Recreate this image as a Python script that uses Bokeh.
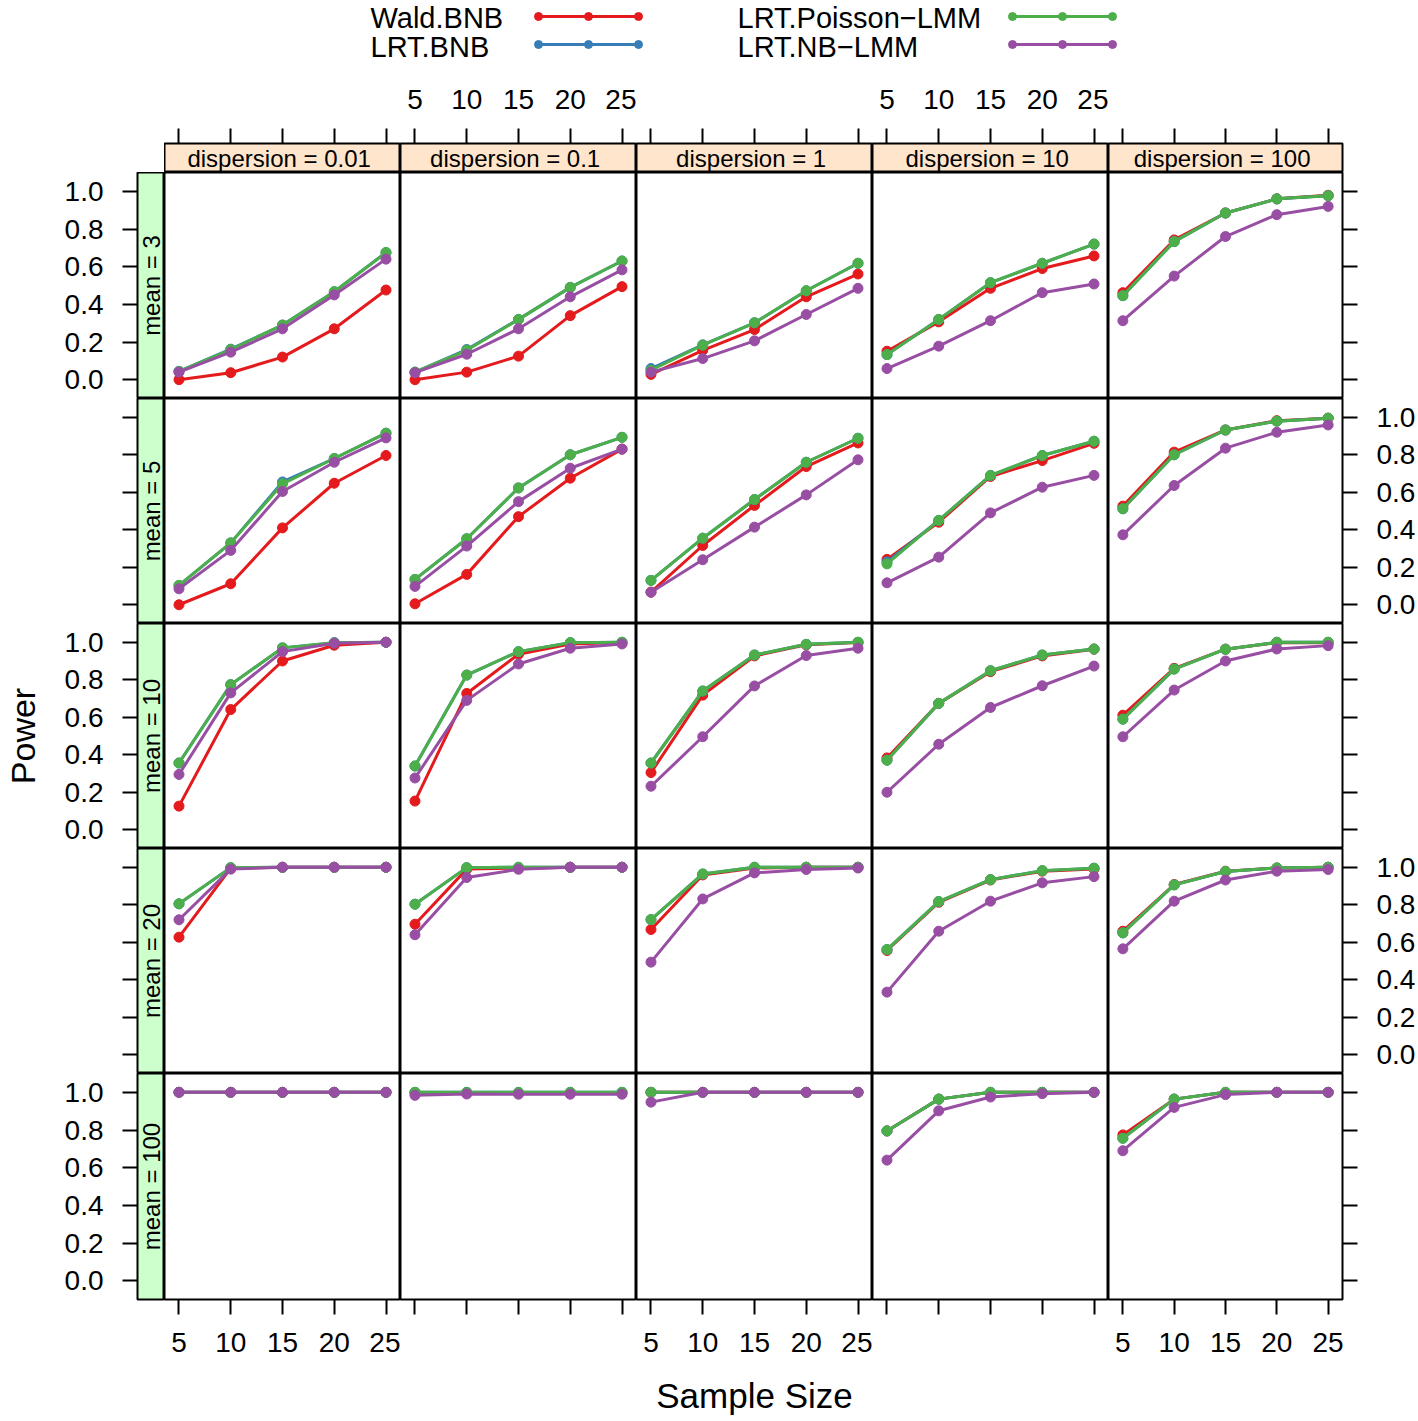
import math
from bokeh.plotting import figure
from bokeh.layouts import gridplot, column
from bokeh.models import Range1d, FixedTicker, LinearAxis, PrintfTickFormatter
from bokeh.core.properties import value
from bokeh.embed import file_html
from bokeh.resources import INLINE

# ---------------- data ----------------
sample_size = [5, 10, 15, 20, 25]
means = ["3", "5", "10", "20", "100"]
dispersions = ["0.01", "0.1", "1", "10", "100"]
x_ticks = [5, 10, 15, 20, 25]
x_tick_labels = ["5", "10", "15", "20", "25"]
y_ticks = [0.0, 0.2, 0.4, 0.6, 0.8, 1.0]
y_tick_labels = ["0.0", "0.2", "0.4", "0.6", "0.8", "1.0"]
methods = ["Wald.BNB", "LRT.BNB", "LRT.Poisson\u2212LMM", "LRT.NB\u2212LMM"]
colors = ["#E41A1C", "#377EB8", "#4DAF4A", "#984EA3"]

# power[mean][dispersion] -> values at sample sizes 5..25
wald_bnb = [
    [[0.0, 0.037, 0.12, 0.27, 0.476], [0.0, 0.04, 0.125, 0.34, 0.494], [0.028, 0.156, 0.266, 0.44, 0.561],
     [0.151, 0.307, 0.485, 0.59, 0.657], [0.462, 0.742, 0.885, 0.96, 0.979]],
    [[0.0, 0.112, 0.41, 0.648, 0.796], [0.005, 0.162, 0.47, 0.675, 0.83], [0.067, 0.316, 0.53, 0.737, 0.863],
     [0.242, 0.44, 0.684, 0.769, 0.861], [0.526, 0.814, 0.932, 0.982, 0.995]],
    [[0.126, 0.641, 0.9, 0.984, 1.0], [0.153, 0.727, 0.936, 0.991, 0.998], [0.305, 0.718, 0.927, 0.986, 0.998],
     [0.383, 0.674, 0.843, 0.927, 0.963], [0.611, 0.861, 0.963, 0.998, 0.998]],
    [[0.627, 0.995, 1.0, 1.0, 1.0], [0.696, 0.99, 0.995, 1.0, 1.0], [0.668, 0.959, 0.996, 1.0, 1.0],
     [0.556, 0.813, 0.932, 0.979, 0.991], [0.659, 0.908, 0.979, 0.996, 1.0]],
    [[1.0, 1.0, 1.0, 1.0, 1.0], [0.998, 0.998, 0.998, 0.998, 0.998], [1.0, 1.0, 1.0, 1.0, 1.0],
     [0.795, 0.964, 1.0, 1.0, 1.0], [0.774, 0.964, 1.0, 1.0, 1.0]],
]
lrt_bnb = [
    [[0.044, 0.162, 0.29, 0.467, 0.675], [0.04, 0.16, 0.32, 0.49, 0.63], [0.059, 0.185, 0.302, 0.472, 0.618],
     [0.133, 0.32, 0.515, 0.618, 0.72], [0.446, 0.733, 0.885, 0.96, 0.977]],
    [[0.103, 0.33, 0.655, 0.78, 0.915], [0.135, 0.352, 0.623, 0.8, 0.893], [0.13, 0.355, 0.561, 0.76, 0.888],
     [0.228, 0.45, 0.69, 0.796, 0.872], [0.512, 0.8, 0.932, 0.979, 0.995]],
    [[0.356, 0.774, 0.97, 0.998, 1.0], [0.34, 0.825, 0.95, 0.998, 1.0], [0.356, 0.74, 0.932, 0.989, 1.0],
     [0.371, 0.674, 0.848, 0.932, 0.964], [0.59, 0.857, 0.963, 1.0, 1.0]],
    [[0.805, 0.998, 1.0, 1.0, 1.0], [0.803, 0.998, 1.0, 1.0, 1.0], [0.721, 0.964, 1.0, 1.0, 1.0],
     [0.561, 0.817, 0.934, 0.982, 0.995], [0.65, 0.906, 0.977, 0.996, 1.0]],
    [[1.0, 1.0, 1.0, 1.0, 1.0], [1.0, 1.0, 1.0, 1.0, 1.0], [1.0, 1.0, 1.0, 1.0, 1.0],
     [0.795, 0.964, 1.0, 1.0, 1.0], [0.756, 0.964, 1.0, 1.0, 1.0]],
]
lrt_poisson_lmm = [
    [[0.044, 0.16, 0.29, 0.467, 0.675], [0.04, 0.156, 0.32, 0.49, 0.63], [0.05, 0.183, 0.302, 0.472, 0.618],
     [0.133, 0.32, 0.515, 0.618, 0.72], [0.446, 0.733, 0.885, 0.96, 0.977]],
    [[0.103, 0.33, 0.645, 0.78, 0.915], [0.135, 0.352, 0.623, 0.8, 0.893], [0.13, 0.355, 0.561, 0.76, 0.888],
     [0.218, 0.45, 0.69, 0.796, 0.872], [0.512, 0.8, 0.932, 0.979, 0.995]],
    [[0.356, 0.774, 0.97, 0.998, 1.0], [0.34, 0.825, 0.95, 0.998, 1.0], [0.356, 0.74, 0.932, 0.989, 1.0],
     [0.371, 0.674, 0.848, 0.932, 0.964], [0.59, 0.857, 0.963, 1.0, 1.0]],
    [[0.805, 0.998, 1.0, 1.0, 1.0], [0.803, 0.998, 1.0, 1.0, 1.0], [0.721, 0.964, 1.0, 1.0, 1.0],
     [0.561, 0.817, 0.934, 0.982, 0.995], [0.65, 0.906, 0.977, 0.996, 1.0]],
    [[1.0, 1.0, 1.0, 1.0, 1.0], [1.0, 1.0, 1.0, 1.0, 1.0], [1.0, 1.0, 1.0, 1.0, 1.0],
     [0.795, 0.964, 1.0, 1.0, 1.0], [0.756, 0.964, 1.0, 1.0, 1.0]],
]
lrt_nb_lmm = [
    [[0.04, 0.146, 0.27, 0.45, 0.64], [0.037, 0.135, 0.27, 0.44, 0.583], [0.04, 0.112, 0.206, 0.346, 0.485],
     [0.059, 0.178, 0.313, 0.462, 0.508], [0.313, 0.55, 0.76, 0.876, 0.92]],
    [[0.085, 0.29, 0.604, 0.76, 0.89], [0.098, 0.313, 0.55, 0.728, 0.83], [0.067, 0.24, 0.414, 0.586, 0.773],
     [0.117, 0.254, 0.49, 0.627, 0.69], [0.373, 0.636, 0.835, 0.92, 0.959]],
    [[0.295, 0.73, 0.95, 0.995, 1.0], [0.276, 0.69, 0.884, 0.968, 0.991], [0.232, 0.496, 0.767, 0.929, 0.968],
     [0.2, 0.456, 0.652, 0.768, 0.873], [0.496, 0.745, 0.9, 0.964, 0.982]],
    [[0.72, 0.99, 1.0, 1.0, 1.0], [0.64, 0.945, 0.989, 1.0, 1.0], [0.494, 0.831, 0.97, 0.988, 0.996],
     [0.334, 0.659, 0.819, 0.917, 0.95], [0.565, 0.819, 0.932, 0.979, 0.988]],
    [[1.0, 1.0, 1.0, 1.0, 1.0], [0.984, 0.991, 0.99, 0.99, 0.99], [0.948, 1.0, 1.0, 1.0, 1.0],
     [0.64, 0.902, 0.975, 0.993, 1.0], [0.69, 0.92, 0.988, 1.0, 1.0]],
]
series = [wald_bnb, lrt_bnb, lrt_poisson_lmm, lrt_nb_lmm]

# ---------------- layout constants ----------------
FONT = "Liberation Sans"
TICK_FS = "28px"
STRIP_FS = "24px"
POWER_FS = "34px"
SAMPLE_FS = "35px"
LEG_FS = "29px"
X_RANGE = (3.6, 26.4)
Y_RANGE = (-0.1, 1.1)
COL_W = [236, 236, 236, 236, 236]
ROW_H = [226, 225, 225, 225, 226]
LEFT_B, RIGHT_B, TOP_B, BOTTOM_B = 135, 74, 79, 122
STRIP = 29
LEG_H = 64
TOTAL_W = LEFT_B + STRIP + sum(COL_W) + RIGHT_B

xranges = [Range1d(*X_RANGE) for _ in range(5)]
yranges = [Range1d(*Y_RANGE) for _ in range(5)]


def new_fig(w, h, xr, yr, left=0, right=0, top=0, bottom=0, bg="white"):
    p = figure(width=w, height=h, x_range=xr, y_range=yr, output_backend="svg",
               toolbar_location=None, tools="", x_axis_location=None, y_axis_location=None,
               min_border_left=left, min_border_right=right, min_border_top=top,
               min_border_bottom=bottom)
    p.grid.visible = False
    p.background_fill_color = bg
    p.border_fill_color = "white"
    p.outline_line_color = "black"
    p.outline_line_width = 2
    return p


def make_axis(ticks, labels, show, standoff, axis_label=None, label_fs=None, label_standoff=0, fmt=None):
    ax = LinearAxis(ticker=FixedTicker(ticks=ticks))
    if fmt is not None:
        ax.formatter = fmt
    ax.axis_line_color = None
    ax.major_tick_in = 0
    ax.major_tick_out = 15
    ax.major_tick_line_width = 2
    ax.major_tick_line_color = "black"
    ax.minor_tick_line_color = None
    ax.major_label_text_font = FONT
    ax.major_label_text_font_size = TICK_FS
    ax.major_label_text_color = "black"
    ax.major_label_standoff = standoff
    ax.major_label_overrides = {t: (lab if show else "") for t, lab in zip(ticks, labels)}
    if axis_label is not None:
        ax.axis_label = axis_label
        ax.axis_label_text_font = FONT
        ax.axis_label_text_font_size = label_fs
        ax.axis_label_text_font_style = "normal"
        ax.axis_label_text_color = "black"
        ax.axis_label_standoff = label_standoff
    return ax


# ---------------- legend (key) ----------------
leg = figure(width=TOTAL_W, height=LEG_H, x_range=Range1d(0, TOTAL_W), y_range=Range1d(LEG_H, 0),
             output_backend="svg", toolbar_location=None, tools="",
             x_axis_location=None, y_axis_location=None,
             min_border_left=0, min_border_right=0, min_border_top=0, min_border_bottom=0)
leg.grid.visible = False
leg.outline_line_color = None
key_text_x = [370, 370, 737, 737]
key_text_y = [17, 46, 17, 46]
key_line_y = [16, 44, 16, 44]
key_x0 = [538, 538, 1012, 1012]
key_len = 100
leg.text(x=key_text_x, y=key_text_y, text=methods, text_font=value(FONT), text_font_size=LEG_FS,
         text_align="left", text_baseline="middle", text_color="black")
for i in range(4):
    xs = [key_x0[i], key_x0[i] + key_len / 2, key_x0[i] + key_len]
    ys = [key_line_y[i]] * 3
    leg.line(xs, ys, line_color=colors[i], line_width=3)
    leg.scatter(xs, ys, size=8, fill_color=colors[i], line_color=colors[i])

# ---------------- grid ----------------
rows = []
top_row = [None]
for c in range(5):
    w = COL_W[c] + (RIGHT_B if c == 4 else 0)
    p = new_fig(w, TOP_B + STRIP, xranges[c], Range1d(0, 1), top=TOP_B,
                right=(RIGHT_B if c == 4 else 0), bg="#ffe5cc")
    p.add_layout(make_axis(x_ticks, x_tick_labels, c in (1, 3), 20), "above")
    p.text(x=[(X_RANGE[0] + X_RANGE[1]) / 2], y=[0.5], text=["dispersion =  " + dispersions[c]],
           text_font=value(FONT), text_font_size=STRIP_FS, text_align="center",
           text_baseline="middle", text_color="black")
    top_row.append(p)
rows.append(top_row)

for r in range(5):
    row = []
    h = ROW_H[r] + (BOTTOM_B if r == 4 else 0)
    s = new_fig(LEFT_B + STRIP, h, Range1d(0, 1), yranges[r], left=LEFT_B,
                bottom=(BOTTOM_B if r == 4 else 0), bg="#ccffcc")
    s.add_layout(make_axis(y_ticks, y_tick_labels, r in (0, 2, 4), 19,
                           axis_label=("Power" if r == 2 else None), label_fs=POWER_FS,
                           label_standoff=20, fmt=PrintfTickFormatter(format="%.1f")), "left")
    s.text(x=[0.5], y=[(Y_RANGE[0] + Y_RANGE[1]) / 2], text=["mean = " + means[r]], angle=math.pi / 2,
           text_font=value(FONT), text_font_size=STRIP_FS, text_align="center",
           text_baseline="middle", text_color="black")
    row.append(s)
    for c in range(5):
        w = COL_W[c] + (RIGHT_B if c == 4 else 0)
        p = new_fig(w, h, xranges[c], yranges[r], right=(RIGHT_B if c == 4 else 0),
                    bottom=(BOTTOM_B if r == 4 else 0))
        if c == 4:
            p.add_layout(make_axis(y_ticks, y_tick_labels, r in (1, 3), 19,
                                   fmt=PrintfTickFormatter(format="%.1f")), "right")
        if r == 4:
            p.add_layout(make_axis(x_ticks, x_tick_labels, c in (0, 2, 4), 18,
                                   axis_label=("Sample Size" if c == 2 else None), label_fs=SAMPLE_FS,
                                   label_standoff=21), "below")
        for k in range(4):
            ys = series[k][r][c]
            p.line(sample_size, ys, line_color=colors[k], line_width=3)
            p.scatter(sample_size, ys, size=10, fill_color=colors[k], line_color=colors[k])
        row.append(p)
    rows.append(row)

grid = gridplot(rows, toolbar_location=None)
layout = column(leg, grid)

open("out.html", "w").write(file_html(layout, INLINE))
